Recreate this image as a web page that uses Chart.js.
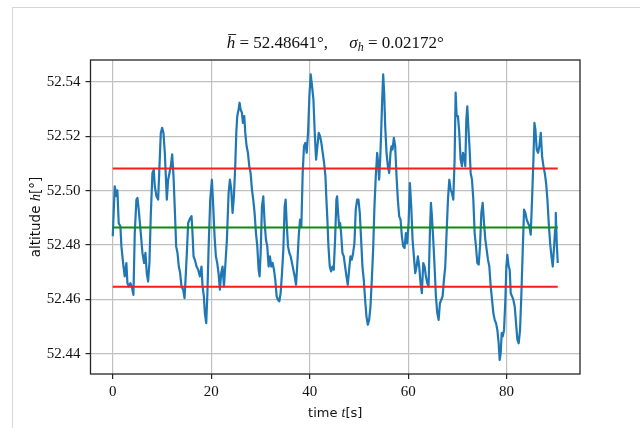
<!DOCTYPE html>
<html>
<head>
<meta charset="utf-8">
<script src="https://cdn.jsdelivr.net/npm/chart.js@4/dist/chart.umd.min.js"></script>
<style>
	html, body { margin: 0; padding: 0; background: #fff; }
	#wrap { position: relative; width: 640px; height: 428px; overflow: hidden; }
	#frame { position: absolute; left: 12px; top: 7px; width: 700px; height: 500px; border-left: 1px solid #d6d6d6; border-top: 1px solid #d6d6d6; pointer-events: none; }
</style>
</head>
<body>
<div id="wrap">
	<canvas id="chart" width="640" height="428"></canvas>
	<div id="frame"></div>
</div>
<script>
// Altitude time series
const times = [
	0.00, 0.40, 0.74, 0.94, 1.21, 1.55, 1.76, 2.10, 2.43, 2.77,
	2.98, 3.25, 3.59, 3.93, 4.20, 4.47, 4.81, 5.01, 5.28, 5.69,
	6.03, 6.37, 6.64, 6.91, 7.18, 7.45, 7.72, 8.06, 8.33, 8.54,
	8.88, 9.22, 9.49, 9.76, 10.03, 10.30, 10.57, 10.84, 10.98, 11.25,
	11.52, 11.79, 12.07, 12.34, 12.61, 12.88, 13.15, 13.42, 13.69, 13.96,
	14.30, 14.58, 14.78, 15.05, 15.32, 15.73, 16.00, 16.20, 16.41, 16.68,
	17.02, 17.35, 17.69, 18.03, 18.24, 18.51, 18.71, 18.99, 19.22, 19.46,
	19.80, 20.14, 20.41, 20.68, 20.95, 21.22, 21.49, 21.76, 22.03, 22.31,
	22.58, 22.85, 23.19, 23.53, 23.80, 24.07, 24.34, 24.61, 24.88, 25.09,
	25.29, 25.56, 25.76, 25.97, 26.24, 26.44, 26.71, 26.92, 27.19, 27.46,
	27.73, 28.00, 28.27, 28.54, 28.81, 29.09, 29.36, 29.63, 29.83, 30.04,
	30.31, 30.58, 30.85, 31.12, 31.39, 31.66, 31.93, 32.20, 32.48, 32.75,
	33.02, 33.29, 33.56, 33.83, 34.10, 34.38, 34.65, 34.92, 35.12, 35.33,
	35.60, 35.87, 36.14, 36.41, 36.68, 36.95, 37.23, 37.50, 37.77, 38.04,
	38.31, 38.58, 38.85, 39.12, 39.40, 39.67, 39.94, 40.21, 40.48, 40.76,
	41.03, 41.30, 41.57, 41.84, 42.11, 42.38, 42.65, 42.93, 43.20, 43.40,
	43.60, 43.81, 44.08, 44.35, 44.62, 44.89, 45.16, 45.43, 45.57, 45.77,
	45.98, 46.18, 46.38, 46.65, 46.93, 47.20, 47.47, 47.74, 48.01, 48.28,
	48.55, 48.82, 49.09, 49.36, 49.64, 49.91, 50.18, 50.45, 50.72, 50.99,
	51.26, 51.54, 51.81, 52.08, 52.35, 52.62, 52.89, 53.16, 53.43, 53.71,
	53.91, 54.11, 54.32, 54.52, 54.73, 54.93, 55.13, 55.34, 55.61, 55.88,
	56.15, 56.42, 56.62, 56.83, 57.10, 57.37, 57.64, 57.91, 58.18, 58.46,
	58.73, 59.00, 59.27, 59.54, 59.81, 60.09, 60.35, 60.63, 60.90, 61.17,
	61.44, 61.71, 61.98, 62.25, 62.52, 62.79, 63.07, 63.34, 63.61, 63.88,
	64.15, 64.42, 64.63, 64.83, 65.10, 65.37, 65.64, 65.92, 66.19, 66.46,
	66.73, 67.00, 67.27, 67.54, 67.81, 68.09, 68.36, 68.63, 68.90, 69.17,
	69.44, 69.65, 69.85, 70.12, 70.39, 70.66, 70.93, 71.14, 71.34, 71.61,
	71.82, 72.02, 72.22, 72.49, 72.70, 72.97, 73.24, 73.51, 73.78, 74.05,
	74.33, 74.60, 74.87, 75.14, 75.41, 75.68, 75.95, 76.22, 76.49, 76.77,
	77.04, 77.31, 77.58, 77.85, 78.12, 78.39, 78.59, 78.80, 79.00, 79.21,
	79.48, 79.75, 79.95, 80.15, 80.43, 80.63, 80.84, 81.11, 81.37, 81.65,
	81.92, 82.19, 82.46, 82.73, 83.01, 83.28, 83.55, 83.82, 84.09, 84.36,
	84.63, 84.90, 85.17, 85.45, 85.65, 85.85, 86.12, 86.39, 86.66, 86.94,
	87.21, 87.48, 87.75, 88.02, 88.29, 88.56, 88.84, 89.11, 89.38, 89.65,
	89.85, 89.99, 90.19, 90.39
];

const altitudes = [
	52.4832, 52.5016, 52.4980, 52.5001, 52.4880, 52.4869, 52.4795, 52.4734, 52.4685, 52.4734,
	52.4660, 52.4648, 52.4660, 52.4642, 52.4617, 52.4844, 52.4967, 52.4973, 52.4930, 52.4844,
	52.4771, 52.4734, 52.4771, 52.4697, 52.4666, 52.4734, 52.4906, 52.5065, 52.5077, 52.5016,
	52.4979, 52.4967, 52.5090, 52.5212, 52.5231, 52.5212, 52.5139, 52.5028, 52.4967, 52.5040,
	52.5065, 52.5090, 52.5133, 52.5053, 52.4930, 52.4795, 52.4771, 52.4721, 52.4697, 52.4648,
	52.4636, 52.4605, 52.4672, 52.4771, 52.4881, 52.4899, 52.4906, 52.4844, 52.4758, 52.4746,
	52.4721, 52.4709, 52.4685, 52.4721, 52.4648, 52.4611, 52.4550, 52.4513, 52.4620, 52.4783,
	52.4967, 52.5040, 52.4942, 52.4832, 52.4758, 52.4734, 52.4697, 52.4636, 52.4697, 52.4721,
	52.4648, 52.4721, 52.4820, 52.4991, 52.5040, 52.5004, 52.4918, 52.4979, 52.5090, 52.5212,
	52.5274, 52.5298, 52.5323, 52.5298, 52.5286, 52.5249, 52.5274, 52.5212, 52.5163, 52.5139,
	52.5090, 52.5065, 52.5004, 52.4967, 52.4918, 52.4844, 52.4795, 52.4709, 52.4685, 52.4771,
	52.4942, 52.4979, 52.4881, 52.4820, 52.4795, 52.4721, 52.4758, 52.4721, 52.4734, 52.4709,
	52.4672, 52.4611, 52.4599, 52.4593, 52.4623, 52.4697, 52.4783, 52.4942, 52.4967, 52.4881,
	52.4795, 52.4771, 52.4758, 52.4734, 52.4709, 52.4685, 52.4654, 52.4734, 52.4832, 52.4893,
	52.4869, 52.5065, 52.5163, 52.5175, 52.5139, 52.5212, 52.5347, 52.5427, 52.5384, 52.5335,
	52.5212, 52.5114, 52.5163, 52.5212, 52.5200, 52.5175, 52.5139, 52.5102, 52.5053, 52.4967,
	52.4893, 52.4795, 52.4721, 52.4703, 52.4721, 52.4709, 52.4820, 52.4967, 52.4979, 52.4918,
	52.4869, 52.4881, 52.4844, 52.4771, 52.4758, 52.4721, 52.4685, 52.4654, 52.4709, 52.4758,
	52.4746, 52.4771, 52.4807, 52.4930, 52.4967, 52.4967, 52.4918, 52.4820, 52.4721, 52.4672,
	52.4599, 52.4537, 52.4507, 52.4525, 52.4574, 52.4672, 52.4783, 52.4942, 52.5053, 52.5139,
	52.5102, 52.5040, 52.5114, 52.5212, 52.5335, 52.5427, 52.5360, 52.5237, 52.5139, 52.5090,
	52.5065, 52.5139, 52.5163, 52.5151, 52.5194, 52.5163, 52.5053, 52.4967, 52.4906, 52.4893,
	52.4832, 52.4795, 52.4789, 52.4844, 52.4807, 52.4881, 52.5028, 52.4942, 52.4820, 52.4758,
	52.4697, 52.4721, 52.4758, 52.4721, 52.4660, 52.4623, 52.4734, 52.4721, 52.4685, 52.4660,
	52.4648, 52.4844, 52.4955, 52.4906, 52.4820, 52.4721, 52.4611, 52.4550, 52.4525, 52.4586,
	52.4599, 52.4611, 52.4672, 52.4721, 52.4844, 52.4967, 52.5040, 52.5004, 52.4991, 52.4967,
	52.5114, 52.5360, 52.5274, 52.5274, 52.5212, 52.5114, 52.5090, 52.5139, 52.5126, 52.5090,
	52.5261, 52.5310, 52.5237, 52.5151, 52.5065, 52.5040, 52.4967, 52.4844, 52.4795, 52.4734,
	52.4728, 52.4795, 52.4918, 52.4955, 52.4881, 52.4820, 52.4783, 52.4746, 52.4721, 52.4648,
	52.4599, 52.4550, 52.4525, 52.4513, 52.4488, 52.4439, 52.4378, 52.4402, 52.4476, 52.4464,
	52.4488, 52.4599, 52.4721, 52.4764, 52.4721, 52.4709, 52.4623, 52.4611, 52.4599, 52.4574,
	52.4513, 52.4452, 52.4439, 52.4488, 52.4623, 52.4783, 52.4930, 52.4918, 52.4893, 52.4881,
	52.4869, 52.4838, 52.4967, 52.5114, 52.5249, 52.5225, 52.5151, 52.5139, 52.5163, 52.5212,
	52.5126, 52.5090, 52.5065, 52.5028, 52.4967, 52.4881, 52.4807, 52.4758, 52.4721, 52.4795,
	52.4856, 52.4918, 52.4807, 52.4734
];

// Statistics shown in the title
const hMean = 52.48641;
const hSigma = 0.02172;

const xTicks = [0, 20, 40, 60, 80];
const yTicks = [52.44, 52.46, 52.48, 52.50, 52.52, 52.54];

const SERIF = '"Liberation Serif", "DejaVu Serif", serif';
const SANS = '"DejaVu Sans", sans-serif';

// draw a row of text pieces with mixed fonts, centred on cx
function drawPieces(ctx, pieces, cx, baseY) {
	let total = 0;
	pieces.forEach((p) => {
		ctx.font = p.font;
		p.w = ctx.measureText(p.text).width;
		total += p.w;
	});
	let x = cx - total / 2;
	pieces.forEach((p) => {
		ctx.font = p.font;
		ctx.fillText(p.text, x, baseY + (p.dy || 0));
		if (p.bar) {
			ctx.beginPath();
			ctx.lineWidth = 0.9;
			ctx.moveTo(x + 1.5, baseY - 13.5);
			ctx.lineTo(x + p.w + 1, baseY - 13.5);
			ctx.stroke();
		}
		x += p.w;
	});
}

const textPlugin = {
	id: 'texts',
	afterDatasetsDraw(chart) {
		const { ctx, chartArea: a } = chart;
		// spines
		ctx.save();
		ctx.strokeStyle = '#262626';
		ctx.lineWidth = 1.3;
		ctx.strokeRect(a.left, a.top, a.right - a.left, a.bottom - a.top);
		ctx.restore();
	},
	afterDraw(chart) {
		const { ctx, chartArea: a } = chart;
		const cx = (a.left + a.right) / 2;
		ctx.save();
		ctx.fillStyle = '#111';
		ctx.strokeStyle = '#111';
		ctx.textBaseline = 'alphabetic';

		// title
		drawPieces(ctx, [
			{ text: 'h', font: `italic 17px ${SERIF}`, bar: true },
			{ text: ' = ' + hMean.toFixed(5) + '°,', font: `17px ${SERIF}` },
			{ text: '     ', font: `17px ${SERIF}` },
			{ text: 'σ', font: `italic 17px ${SERIF}` },
			{ text: 'h', font: `italic 12px ${SERIF}`, dy: 3 },
			{ text: ' = ' + hSigma.toFixed(5) + '°', font: `17px ${SERIF}` }
		], cx, 48);

		// x axis label
		drawPieces(ctx, [
			{ text: 'time ', font: `13px ${SANS}` },
			{ text: 't', font: `italic 14px ${SERIF}` },
			{ text: '[s]', font: `13px ${SANS}` }
		], cx, 417);

		// y axis label (rotated)
		ctx.translate(35, (a.top + a.bottom) / 2);
		ctx.rotate(-Math.PI / 2);
		drawPieces(ctx, [
			{ text: 'altitude ', font: `13.5px ${SANS}` },
			{ text: 'h', font: `italic 14.5px ${SERIF}` },
			{ text: '[°]', font: `13.5px ${SANS}` }
		], 0, 5);
		ctx.restore();
	}
};

(function buildChart() {
	const series = times.map((t, i) => ({ x: t, y: altitudes[i] }));
	const tEnd = times[times.length - 1];
	const hline = (v) => [{ x: times[0], y: v }, { x: tEnd, y: v }];

	const gridOpts = {
		color: '#c0c0c0',
		lineWidth: 1.2,
		tickColor: '#262626',
		tickLength: 5,
		tickWidth: 1.2
	};

	new Chart(document.getElementById('chart'), {
		type: 'line',
		data: {
			datasets: [
				{ data: hline(hMean + hSigma), borderColor: '#f51d1d', borderWidth: 2, order: 1 },
				{ data: hline(hMean - hSigma), borderColor: '#f51d1d', borderWidth: 2, order: 1 },
				{ data: hline(hMean), borderColor: '#128a12', borderWidth: 2, order: 1 },
				{ data: series, borderColor: '#1f77b4', borderWidth: 2.2, order: 2 }
			]
		},
		plugins: [textPlugin],
		options: {
			responsive: false,
			animation: false,
			events: [],
			layout: { padding: { left: 0, right: 60, top: 60, bottom: 0 } },
			elements: {
				point: { radius: 0 },
				line: { tension: 0, borderJoinStyle: 'round', borderCapStyle: 'butt' }
			},
			plugins: { legend: { display: false }, tooltip: { enabled: false }, title: { display: false } },
			scales: {
				x: {
					type: 'linear',
					min: -4.52,
					max: 94.91,
					grid: gridOpts,
					border: { display: false },
					afterBuildTicks: (s) => { s.ticks = xTicks.map((v) => ({ value: v })); },
					afterFit: (s) => { s.height = 54; },
					ticks: {
						padding: 4,
						color: '#111',
						font: { family: SERIF, size: 15 },
						callback: (v) => String(v)
					}
				},
				y: {
					type: 'linear',
					min: 52.4326,
					max: 52.548,
					grid: gridOpts,
					border: { display: false },
					afterBuildTicks: (s) => { s.ticks = yTicks.map((v) => ({ value: v })); },
					afterFit: (s) => { s.width = 90.5; },
					ticks: {
						padding: 5,
						color: '#111',
						font: { family: SERIF, size: 15 },
						callback: (v) => Number(v).toFixed(2)
					}
				}
			}
		}
	});
})();
</script>
</body>
</html>
